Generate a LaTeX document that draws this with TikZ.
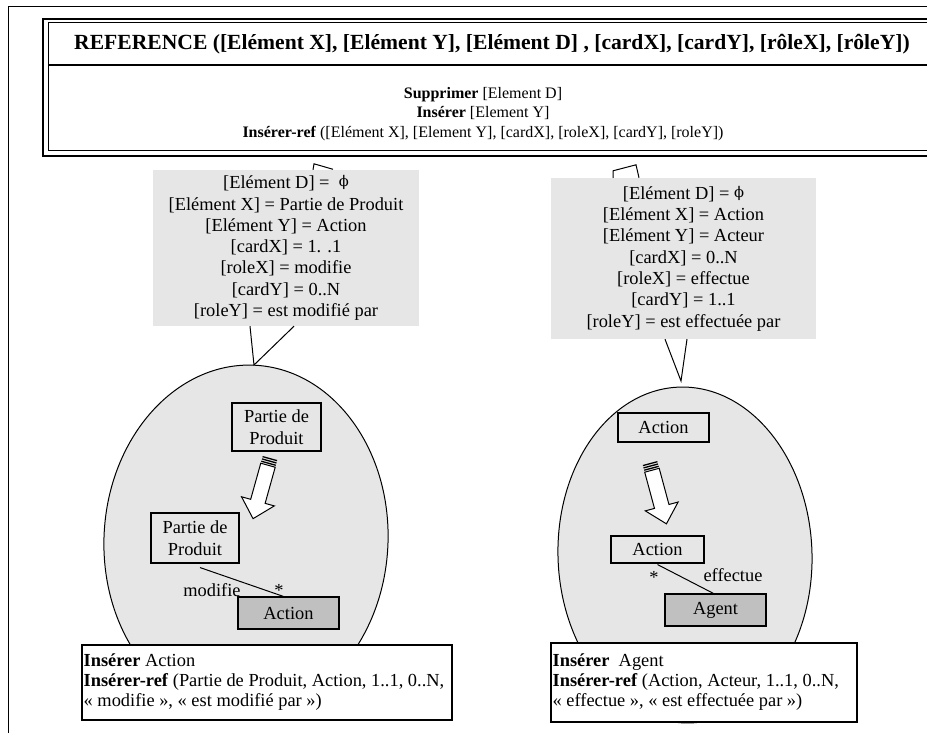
\documentclass[tikz,border=0pt]{standalone}
\usepackage{fontspec}
\setmainfont{Liberation Serif}
\newfontfamily\phifont{DejaVu Serif}[Scale=0.8]
\usetikzlibrary{positioning, calc}

\definecolor{bggray}{HTML}{E6E6E6}
\definecolor{boxgray}{HTML}{C0C0C0}

\newcommand{\nulval}{\raisebox{2pt}{\phifont ϕ}}

% striped block arrow: tail x, tail y, angle
\newcommand{\stripedarrow}[3]{%
  \begin{scope}[shift={(#1,#2)}, rotate=#3]
    \foreach \s in {0,2.4,4.8}
      \fill (\s,-7.5) rectangle (\s+1.3,7.5);
    \draw[fill=white, line width=1pt] (7.5,-7.5) -- (45,-7.5) -- (45,-17) -- (63,0)
      -- (45,17) -- (45,7.5) -- (7.5,7.5) -- cycle;
  \end{scope}}

\begin{document}
\begin{tikzpicture}[x=1pt, y=-1pt,
    every node/.style={inner sep=0pt},
    cond/.style={fill=bggray, align=center, font=\fontsize{18.4}{21.3}\selectfont},
    ent/.style={draw, line width=1.1pt, align=center, font=\fontsize{18.4}{22}\selectfont},
    entnew/.style={ent, fill=boxgray},
    opsbox/.style={draw, line width=1.1pt, fill=white},
    tag/.style={font=\fontsize{18.4}{20}\selectfont}]
  \useasboundingbox (0,0) rectangle (927,733);

  % outer frame
  \draw[line width=1pt] (8,740) -- (8,7) -- (940,7);

  % pattern box
  \draw[line width=1.8pt] (43,19) rectangle (940,156);
  \draw[line width=1pt] (48,23) rectangle (935,151);
  \draw[line width=1.1pt] (48,65) -- (935,65);
  \node[font=\bfseries\fontsize{21.6}{26}\selectfont] (title) at (492,44)
    {REFERENCE ([Elément X], [Elément Y], [Elément D] , [cardX], [cardY], [rôleX], [rôleY])};
  \node[align=center, font=\fontsize{16}{19.5}\selectfont] (ops) at (483,114)
    {\textbf{Supprimer} [Element D]\\
     \textbf{Insérer} [Element Y]\\
     \textbf{Insérer-ref} ([Elément X], [Element Y], [cardX], [roleX], [cardY], [roleY])};

  % the two contexts
  \draw[fill=bggray, line width=1pt, rotate around={-3:(246,540)}]
    (246,540) ellipse [x radius=142pt, y radius=175pt];
  \draw[fill=bggray, line width=1pt, rotate around={2:(685,555)}]
    (685,555) ellipse [x radius=127pt, y radius=168pt];

  % conditions
  \node[cond, minimum width=266, minimum height=156] (condL) at (286,248)
    {[Elément D] = \ \nulval\\{}%
     [Elément X] = Partie de Produit\\{}%
     [Elément Y] = Action\\{}%
     [cardX] = 1. .1\\{}%
     [roleX] = modifie\\{}%
     [cardY] = 0..N\\{}%
     [roleY] = est modifié par};
  \node[cond, minimum width=265, minimum height=161] (condR) at (683.5,258.5)
    {[Elément D] = \nulval\\{}%
     [Elément X] = Action\\{}%
     [Elément Y] = Acteur\\{}%
     [cardX] = 0..N\\{}%
     [roleX] = effectue\\{}%
     [cardY] = 1..1\\{}%
     [roleY] = est effectuée par};

  \coordinate (tipL) at (254,365);
  \coordinate (tipR) at (681,381);
  \draw[line width=1pt] ([xshift=27pt]condL.north) -- ([xshift=28pt,yshift=6pt]condL.north)
    -- ([xshift=47pt,yshift=0.5pt]condL.north);
  \draw[line width=1pt] ([xshift=-36pt]condL.south) -- (tipL) -- ([xshift=8pt]condL.south);
  \draw[line width=1pt] ([xshift=-70.5pt]condR.north) -- ([xshift=-70.5pt,yshift=7pt]condR.north)
    -- ([xshift=-47.5pt,yshift=13pt]condR.north) -- ([xshift=-44.5pt]condR.north);
  \draw[line width=1pt] ([xshift=-18.5pt]condR.south) -- (tipR) -- ([xshift=3.5pt]condR.south);

  % left context
  \node[ent, minimum width=89, minimum height=48] (pp1) at (276.5,427) {Partie de\\Produit};
  \node[ent, minimum width=88, minimum height=50] (pp2) at (195,538) {Partie de\\Produit};
  \node[entnew, minimum width=101, minimum height=32] (act1) at (288.5,613) {Action};
  \stripedarrow{270}{458}{254.4}
  \draw[line width=1pt] ([xshift=5pt,yshift=-4pt]pp2.south) -- ([xshift=-5pt]act1.north);
  \node[tag] (roleL) at (212,590) {modifie};
  \node[tag] (cardL) at (279,590) {*};

  % right context
  \node[ent, minimum width=91, minimum height=29] (act2) at (663.5,427.5) {Action};
  \node[ent, minimum width=93, minimum height=27] (act3) at (657.5,549.5) {Action};
  \node[entnew, minimum width=101, minimum height=32] (agent) at (715.5,610) {Agent};
  \stripedarrow{650}{463}{285.1}
  \draw[line width=1pt] ([yshift=-1pt]act3.south) -- ([xshift=-2pt]agent.north);
  \node[tag] (cardR) at (654,577) {*};
  \node[tag] (roleR) at (733,575) {effectue};

  % resulting operations
  \node[opsbox, minimum width=370, minimum height=75] (insL) at (267,682.5) {};
  \node[tag, anchor=west, align=left] (insLtxt) at ([xshift=2pt]insL.west)
    {\textbf{Insérer} Action\\
     \textbf{Insérer-ref} (Partie de Produit, Action, 1..1, 0..N,\\
     « modifie », « est modifié par »)};
  \node[opsbox, minimum width=306, minimum height=79] (insR) at (704,682.5) {};
  \node[tag, anchor=west, align=left] (insRtxt) at ([xshift=2pt]insR.west)
    {\textbf{Insérer}\ \ Agent\\
     \textbf{Insérer-ref} (Action, Acteur, 1..1, 0..N,\\
     « effectue », « est effectuée par »)};
\end{tikzpicture}
\end{document}
